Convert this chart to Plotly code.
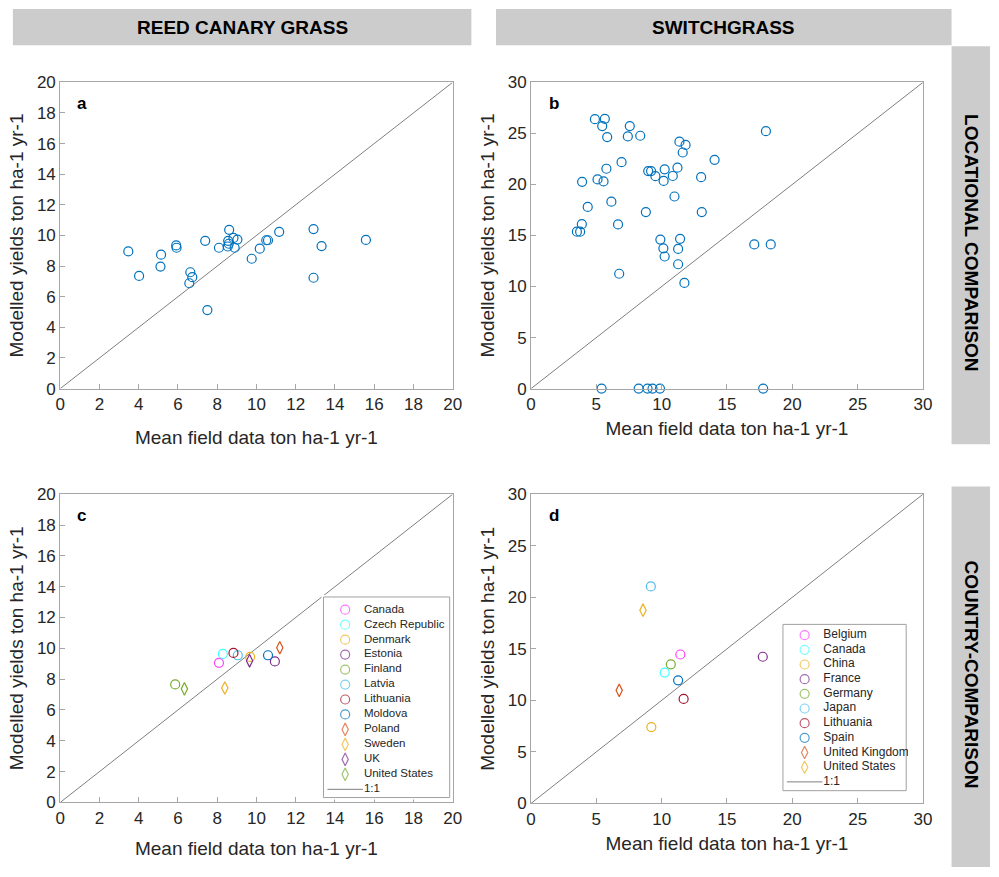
import plotly.graph_objects as go

# ---------------- data ----------------
# Reed canary grass, locational comparison (mean field yield vs modelled yield)
reed_field = [3.47, 4.02, 5.14, 5.11, 5.91, 5.93, 6.63, 6.73, 6.58, 7.39, 7.50, 8.09, 8.61, 8.56,
              8.59, 8.54, 8.83, 8.89, 9.03, 9.76, 10.17, 10.50, 10.59, 11.16, 12.91, 12.91, 13.32, 15.58]
reed_model = [8.96, 7.36, 8.75, 7.97, 9.35, 9.20, 7.60, 7.28, 6.88, 9.65, 5.13, 9.20, 10.37, 9.65,
              9.46, 9.28, 9.84, 9.20, 9.73, 8.48, 9.14, 9.69, 9.69, 10.24, 10.42, 7.24, 9.31, 9.71]

# Switchgrass, locational comparison
switch_field = [4.89, 5.65, 5.45, 7.56, 5.83, 7.41, 8.36, 17.98, 11.36, 11.83, 11.61, 14.05, 6.93, 5.77,
                11.21, 8.97, 9.19, 10.23, 9.52, 10.15, 10.85, 13.02, 5.09, 5.55, 3.91, 10.98, 6.15, 4.34,
                8.79, 13.07, 3.89, 6.66, 3.51, 3.76, 9.90, 11.41, 10.13, 11.26, 17.09, 18.35, 10.23, 11.26,
                6.75, 11.74, 5.40, 8.24, 8.92, 9.30, 9.87, 17.77]
switch_model = [26.40, 26.43, 25.72, 25.72, 24.64, 24.71, 24.77, 25.22, 24.19, 23.87, 23.13, 22.41, 22.18, 21.54,
                21.64, 21.31, 21.31, 21.48, 20.81, 20.35, 20.83, 20.71, 20.49, 20.30, 20.26, 18.82, 18.31, 17.80,
                17.29, 17.29, 16.11, 16.08, 15.37, 15.37, 14.60, 14.67, 13.74, 13.68, 14.12, 14.12, 12.94, 12.18,
                11.25, 10.35, 0.0, 0.0, 0.0, 0.0, 0.0, 0.0]

# Reed canary grass, country comparison
reed_countries = ["Canada", "Czech Republic", "Denmark", "Estonia", "Finland", "Latvia",
                  "Lithuania", "Moldova", "Poland", "Sweden", "UK", "United States"]
reed_country_field = [8.09, 8.29, 9.68, 10.94, 5.86, 9.05, 8.83, 10.59, 11.19, 8.39, 9.65, 6.33]
reed_country_model = [9.06, 9.64, 9.44, 9.15, 7.66, 9.55, 9.70, 9.55, 10.04, 7.43, 9.19, 7.37]
reed_country_colors = ["#FF40FF", "#40FFFF", "#EDB120", "#7E2F8E", "#77AC30", "#4DBEEE",
                       "#A2142F", "#0072BD", "#D95319", "#EDB120", "#7E2F8E", "#77AC30"]
reed_country_symbols = ["circle"] * 8 + ["diamond"] * 4

# Switchgrass, country comparison
switch_countries = ["Belgium", "Canada", "China", "France", "Germany", "Japan",
                    "Lithuania", "Spain", "United Kingdom", "United States"]
switch_country_field = [11.43, 10.23, 9.21, 17.74, 10.70, 9.17, 11.68, 11.26, 6.75, 8.57]
switch_country_model = [14.45, 12.70, 7.41, 14.23, 13.50, 21.06, 10.14, 11.94, 10.97, 18.75]
switch_country_colors = ["#FF40FF", "#40FFFF", "#EDB120", "#7E2F8E", "#77AC30", "#4DBEEE",
                         "#A2142F", "#0072BD", "#D95319", "#EDB120"]
switch_country_symbols = ["circle"] * 8 + ["diamond"] * 2

x_title = "Mean field data ton ha-1 yr-1"
y_title = "Modelled yields ton ha-1 yr-1"
headers = ["REED CANARY GRASS", "SWITCHGRASS"]
row_labels = ["LOCATIONAL COMPARISON", "COUNTRY-COMPARISON"]
panel_letters = ["a", "b", "c", "d"]

# ---------------- layout helpers ----------------
FW, FH = 999, 877
FONT = "Liberation Sans, Arial, sans-serif"
AX = "#a6a6a6"
TXT = "#262626"
BLUE = "#0072BD"
GREY_LINE = "#7f7f7f"


def dom_x(a, b):
    return [a / FW, b / FW]


def dom_y(top, bottom):
    return [1 - bottom / FH, 1 - top / FH]


fig = go.Figure()

panels = {
    # name: (xaxis id, yaxis id, x px span, y px span, max, dtick, x-title standoff)
    "a": ("x", "y", (56, 454), (75, 388), 20, 2, 17),
    "b": ("x2", "y2", (533.5, 931), (75, 388), 30, 5, 8),
    "c": ("x3", "y3", (56, 454), (496, 811), 20, 2, 14),
    "d": ("x4", "y4", (533.5, 931), (496, 812), 30, 5, 8),
}


def axis_style(rng, dtick, domain, anchor, title):
    return dict(
        domain=domain, anchor=anchor, range=[0, rng], dtick=dtick, tick0=0,
        showline=True, mirror=True, linecolor=AX, linewidth=1,
        ticks="inside", ticklen=5, tickcolor=AX, tickwidth=1,
        showgrid=False, zeroline=False, fixedrange=True,
        tickfont=dict(family=FONT, size=17, color=TXT),
        title=dict(text=title, font=dict(family=FONT, size=19, color=TXT)),
    )


layout_axes = {}
for key, (xa, ya, xs, ys, mx, dt, so) in panels.items():
    xname = "xaxis" + xa[1:]
    yname = "yaxis" + ya[1:]
    layout_axes[xname] = axis_style(mx, dt, dom_x(*xs), ya, x_title)
    layout_axes[yname] = axis_style(mx, dt, dom_y(*ys), xa, y_title)
    layout_axes[xname]["title"]["standoff"] = so
    layout_axes[yname]["title"]["standoff"] = 8
    # 1:1 reference line
    fig.add_trace(go.Scatter(
        x=[0, mx], y=[0, mx], mode="lines", xaxis=xa, yaxis=ya,
        line=dict(color=GREY_LINE, width=1), showlegend=False, hoverinfo="skip"))

# locational scatter (a, b)
for (fx, my), key in [((reed_field, reed_model), "a"), ((switch_field, switch_model), "b")]:
    xa, ya = panels[key][0], panels[key][1]
    fig.add_trace(go.Scatter(
        x=fx, y=my, mode="markers", xaxis=xa, yaxis=ya, cliponaxis=False,
        marker=dict(symbol="circle-open", size=9, color=BLUE, line=dict(width=1.2)),
        showlegend=False))

# country scatter (c, d)
country_sets = [
    ("c", reed_countries, reed_country_field, reed_country_model, reed_country_colors, reed_country_symbols),
    ("d", switch_countries, switch_country_field, switch_country_model, switch_country_colors, switch_country_symbols),
]


def open_symbol(s):
    return "diamond-tall-open" if s == "diamond" else "circle-open"


def symbol_size(s):
    return 9 if s == "circle" else 9


for key, names, fx, my, cols, syms in country_sets:
    xa, ya = panels[key][0], panels[key][1]
    for n, x, y, c, s in zip(names, fx, my, cols, syms):
        fig.add_trace(go.Scatter(
            x=[x], y=[y], mode="markers", xaxis=xa, yaxis=ya, name=n, cliponaxis=False,
            marker=dict(symbol=open_symbol(s), size=symbol_size(s), color=c,
                        line=dict(width=1.2)),
            showlegend=False))

# ---------------- legend boxes for the country panels ----------------
# each legend lives on its own hidden axis measured in pixels from the box corner
legend_boxes = {
    # key: (axis ids, left, top, width, height, first row offset, row step, font size)
    "c": ("x5", "y5", 323, 601, 128, 205, 13, 15.3, 11.5),
    "d": ("x6", "y6", 789, 629, 125, 170, 11, 15.0, 12),
}
PAD = 2
for key, names, fx, my, cols, syms in country_sets:
    xa, ya, left, top, w, h, off, step, fs = legend_boxes[key]
    layout_axes["xaxis" + xa[1:]] = dict(
        domain=dom_x(left - PAD, left + w + PAD), range=[-PAD, w + PAD], visible=False,
        anchor=ya, fixedrange=True)
    layout_axes["yaxis" + ya[1:]] = dict(
        domain=dom_y(top - PAD, top + h + PAD), range=[h + PAD, -PAD], visible=False,
        anchor=xa, fixedrange=True)
    # box
    fig.add_trace(go.Scatter(
        x=[0, w, w, 0, 0], y=[0, 0, h, h, 0], mode="lines", fill="toself",
        fillcolor="white", line=dict(color="#a0a0a0", width=1),
        xaxis=xa, yaxis=ya, showlegend=False, hoverinfo="skip"))
    rows = [off + i * step for i in range(len(names) + 1)]
    fig.add_trace(go.Scatter(
        x=[22] * len(names), y=rows[:-1], mode="markers", xaxis=xa, yaxis=ya,
        marker=dict(symbol=[open_symbol(s) for s in syms],
                    size=[symbol_size(s) for s in syms],
                    color=cols, line=dict(width=1.2)),
        showlegend=False, hoverinfo="skip"))
    fig.add_trace(go.Scatter(
        x=[41] * (len(names) + 1), y=rows, mode="text", xaxis=xa, yaxis=ya,
        text=names + ["1:1"], textposition="middle right",
        textfont=dict(family=FONT, size=fs, color=TXT),
        showlegend=False, hoverinfo="skip"))
    fig.add_trace(go.Scatter(
        x=[4, 40], y=[rows[-1], rows[-1]], mode="lines", xaxis=xa, yaxis=ya,
        line=dict(color=GREY_LINE, width=1), showlegend=False, hoverinfo="skip"))

# ---------------- header strips ----------------
shapes = []
annotations = []
header_boxes = [(8, 473), (498, 960)]
for text, (x0, x1) in zip(headers, header_boxes):
    shapes.append(dict(type="rect", xref="paper", yref="paper", x0=x0 / FW, x1=x1 / FW,
                       y0=1 - 37 / FH, y1=1, fillcolor="#cccccc", line=dict(width=0), layer="below"))
    annotations.append(dict(text="<b>%s</b>" % text, xref="paper", yref="paper",
                            x=(x0 + x1) / 2 / FW, y=1 - 19 / FH, showarrow=False,
                            xanchor="center", yanchor="middle",
                            font=dict(family=FONT, size=19, color="black")))

side_boxes = [(38, 445), (488, 877)]
for text, (y0, y1) in zip(row_labels, side_boxes):
    shapes.append(dict(type="rect", xref="paper", yref="paper", x0=960 / FW, x1=1,
                       y0=1 - y1 / FH, y1=1 - y0 / FH, fillcolor="#cccccc",
                       line=dict(width=0), layer="below"))
    annotations.append(dict(text="<b>%s</b>" % text, xref="paper", yref="paper",
                            x=980 / FW, y=1 - ((y0 + y1) / 2 - 2) / FH, showarrow=False,
                            textangle=90, xanchor="center", yanchor="middle",
                            font=dict(family=FONT, size=19, color="black")))

letter_pos = {"a": (78, 97), "b": (557, 97), "c": (78, 518), "d": (557, 518)}
for letter in panel_letters:
    px, py = letter_pos[letter]
    annotations.append(dict(text="<b>%s</b>" % letter, xref="paper", yref="paper",
                            x=px / FW, y=1 - py / FH, showarrow=False,
                            xanchor="center", yanchor="middle",
                            font=dict(family=FONT, size=17, color="black")))

fig.update_layout(
    width=FW, height=FH, margin=dict(l=0, r=0, t=0, b=0),
    paper_bgcolor="white", plot_bgcolor="white", showlegend=False,
    shapes=shapes, annotations=annotations, **layout_axes)

fig.write_html("out.html", config={"displayModeBar": False})
